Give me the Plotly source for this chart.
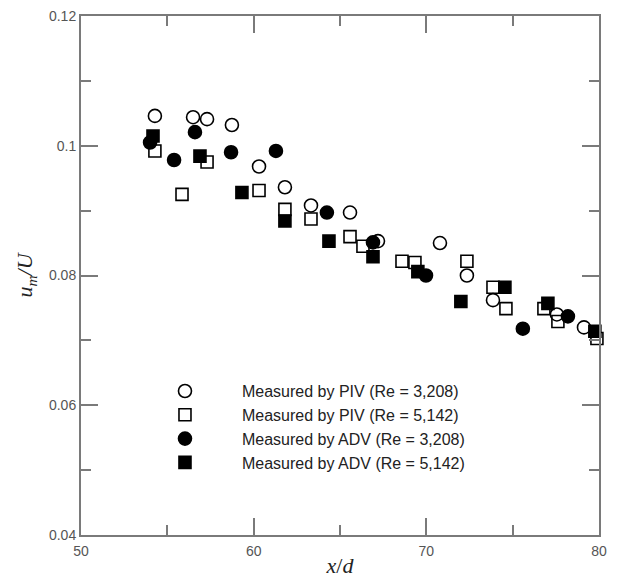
import plotly.graph_objects as go

# PIV, Re = 3,208 (open circles)
piv1_x = [54.28, 56.49, 57.30, 58.74, 60.31, 61.81, 63.32, 65.58, 67.20, 70.79, 72.35, 73.86, 77.56, 79.13]
piv1_y = [0.1046, 0.1044, 0.1041, 0.1032, 0.0968, 0.0936, 0.0908, 0.0897, 0.0853, 0.0850, 0.0800, 0.0762, 0.0740, 0.0720]

# PIV, Re = 5,142 (open squares)
piv2_x = [54.28, 55.85, 57.30, 60.31, 61.81, 63.32, 65.58, 66.33, 68.59, 69.34, 72.35, 73.86, 74.61, 76.81, 77.62, 79.88]
piv2_y = [0.0992, 0.0925, 0.0975, 0.0931, 0.0902, 0.0887, 0.0860, 0.0845, 0.0822, 0.0820, 0.0822, 0.0782, 0.0749, 0.0749, 0.0729, 0.0703]

# ADV, Re = 3,208 (filled circles)
adv1_x = [54.00, 55.39, 56.60, 58.69, 61.29, 64.24, 66.91, 69.98, 75.59, 78.20]
adv1_y = [0.1005, 0.0978, 0.1021, 0.0990, 0.0992, 0.0897, 0.0851, 0.0800, 0.0718, 0.0737]

# ADV, Re = 5,142 (filled squares)
adv2_x = [54.17, 56.89, 59.32, 61.81, 64.36, 66.91, 69.51, 72.00, 74.55, 77.04, 79.76]
adv2_y = [0.1015, 0.0984, 0.0928, 0.0884, 0.0853, 0.0829, 0.0806, 0.0760, 0.0782, 0.0757, 0.0714]

names = ["Measured by PIV (Re = 3,208)", "Measured by PIV (Re = 5,142)",
         "Measured by ADV (Re = 3,208)", "Measured by ADV (Re = 5,142)"]

x_ticks = [50, 60, 70, 80]
y_ticks = [0.04, 0.06, 0.08, 0.1, 0.12]
y_ticktext = ["0.04", "0.06", "0.08", "0.1", "0.12"]

fig = go.Figure()
series = [
    (piv1_x, piv1_y, "circle-open", names[0], 13),
    (piv2_x, piv2_y, "square-open", names[1], 12),
    (adv1_x, adv1_y, "circle", names[2], 13),
    (adv2_x, adv2_y, "square", names[3], 12),
]
for xs, ys, sym, nm, sz in series:
    fig.add_trace(go.Scatter(
        x=xs, y=ys, mode="markers", name=nm, cliponaxis=False,
        marker=dict(symbol=sym, size=sz, color="black", line=dict(color="black", width=1.6)),
    ))

axcol = "#7a7a7a"
fig.update_layout(
    width=619, height=581,
    margin=dict(l=81, r=20, t=16, b=46),
    plot_bgcolor="white", paper_bgcolor="white",
    font=dict(family="Liberation Sans, Arial, sans-serif", color="#555555", size=14),
    legend=dict(
        x=0.0907, y=0.31, xanchor="left", yanchor="top",
        bgcolor="rgba(0,0,0,0)", itemwidth=104,
        font=dict(size=16, color="#222222", family="Liberation Sans, Arial, sans-serif"),
        tracegroupgap=0,
    ),
    showlegend=True,
)
fig.update_xaxes(
    range=[50, 80], tickvals=x_ticks, ticktext=[str(v) for v in x_ticks],
    showgrid=False, zeroline=False, automargin=False,
    showline=True, linecolor=axcol, linewidth=2, mirror="ticks",
    ticks="inside", ticklen=17, tickwidth=2, tickcolor=axcol, ticklabelstandoff=2,
    minor=dict(ticks="inside", ticklen=10, tickwidth=2, tickcolor=axcol, dtick=5, showgrid=False),
    title=dict(text="<i>x</i>/<i>d</i>", font=dict(family="Liberation Serif, Times New Roman, serif", size=22, color="#222222"), standoff=0),
)
fig.update_yaxes(
    range=[0.04, 0.12], tickvals=y_ticks, ticktext=y_ticktext,
    showgrid=False, zeroline=False, automargin=False,
    showline=True, linecolor=axcol, linewidth=2, mirror="ticks",
    ticks="inside", ticklen=17, tickwidth=2, tickcolor=axcol,
    minor=dict(ticks="inside", ticklen=10, tickwidth=2, tickcolor=axcol, dtick=0.01, showgrid=False),
    title=dict(text="<i>u</i><sub><i>m</i></sub><i>/U</i>", font=dict(family="Liberation Serif, Times New Roman, serif", size=22, color="#222222"), standoff=10),
)

fig.write_html("out.html")
